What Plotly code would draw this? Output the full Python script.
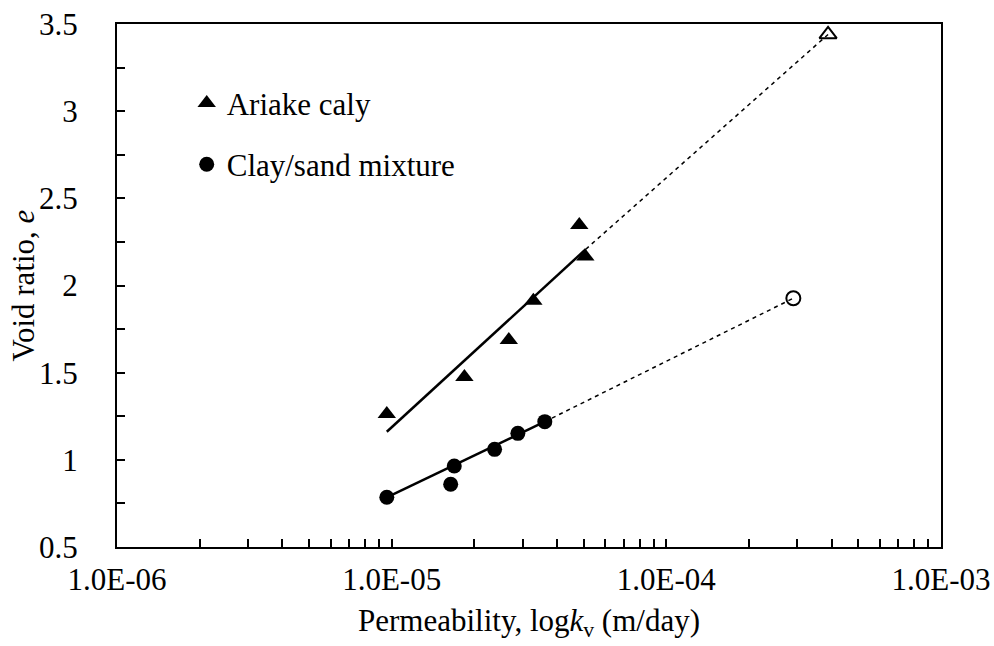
import plotly.graph_objects as go

# --- data ---
ariake_k = [9.6e-6, 1.84e-5, 2.67e-5, 3.28e-5, 4.82e-5, 5.07e-5]
ariake_e = [1.263, 1.475, 1.688, 1.913, 2.347, 2.166]
ariake_fit_k = [9.6e-6, 5.09e-5]
ariake_fit_e = [1.161, 2.208]
ariake_ext_k = [5.09e-5, 3.88e-4]
ariake_ext_e = [2.208, 3.44]

mix_k = [9.6e-6, 1.69e-5, 1.64e-5, 2.37e-5, 2.88e-5, 3.61e-5]
mix_e = [0.785, 0.965, 0.86, 1.06, 1.152, 1.219]
mix_fit_k = [9.6e-6, 3.61e-5]
mix_fit_e = [0.785, 1.219]
mix_ext_k = [3.61e-5, 2.9e-4]
mix_ext_e = [1.219, 1.927]

x_tickvals = [1e-6, 1e-5, 1e-4, 1e-3]
x_ticktext = ["1.0E-06", "1.0E-05", "1.0E-04", "1.0E-03"]

FONT = "Liberation Serif"
FS = 31

fig = go.Figure()

# dashed extrapolations
fig.add_trace(go.Scatter(x=ariake_ext_k, y=ariake_ext_e, mode="lines",
                         line=dict(color="black", width=1.5, dash="4px,4px"),
                         showlegend=False, hoverinfo="skip"))
fig.add_trace(go.Scatter(x=mix_ext_k, y=mix_ext_e, mode="lines",
                         line=dict(color="black", width=1.5, dash="4px,4px"),
                         showlegend=False, hoverinfo="skip"))
# solid fits
fig.add_trace(go.Scatter(x=ariake_fit_k, y=ariake_fit_e, mode="lines",
                         line=dict(color="black", width=2.5),
                         showlegend=False, hoverinfo="skip"))
fig.add_trace(go.Scatter(x=mix_fit_k, y=mix_fit_e, mode="lines",
                         line=dict(color="black", width=2.5),
                         showlegend=False, hoverinfo="skip"))
# open end markers
fig.add_trace(go.Scatter(x=ariake_ext_k[1:], y=ariake_ext_e[1:], mode="markers",
                         marker=dict(symbol="triangle-up-open", size=15, color="black",
                                     line=dict(width=2, color="black")),
                         showlegend=False))
fig.add_trace(go.Scatter(x=mix_ext_k[1:], y=mix_ext_e[1:], mode="markers",
                         marker=dict(symbol="circle-open", size=14, color="black",
                                     line=dict(width=2, color="black")),
                         showlegend=False))
# data
fig.add_trace(go.Scatter(x=ariake_k, y=ariake_e, mode="markers", name="Ariake caly",
                         legendgroup="a",
                         marker=dict(symbol="triangle-up", size=16, color="black")))
fig.add_trace(go.Scatter(x=mix_k, y=mix_e, mode="markers", name="Clay/sand mixture",
                         legendgroup="b",
                         marker=dict(symbol="circle", size=15, color="black")))

fig.update_layout(
    width=994, height=646,
    margin=dict(l=117, r=53, t=24, b=99, autoexpand=False),
    paper_bgcolor="white", plot_bgcolor="white",
    font=dict(family=FONT, size=FS, color="black"),
    showlegend=True,
    legend=dict(x=0.0846, y=0.9, xanchor="left", yanchor="top",
                bgcolor="rgba(0,0,0,0)", traceorder="grouped",
                tracegroupgap=18, itemwidth=30,
                font=dict(family=FONT, size=FS, color="black")),
    xaxis=dict(type="log", range=[-6, -3], automargin=False,
               tickvals=x_tickvals, ticktext=x_ticktext,
               ticks="inside", ticklen=8, tickwidth=1.5, tickcolor="black",
               minor=dict(ticks="inside", ticklen=8, tickwidth=1.5, tickcolor="black",
                          dtick="D1", showgrid=False),
               showline=True, linewidth=2, linecolor="black", mirror=True,
               showgrid=False, zeroline=False,
               ticklabelstandoff=4,
               tickfont=dict(family=FONT, size=FS),
               title=dict(text="Permeability, log<i>k</i><sub>v</sub> (m/day)",
                          font=dict(family=FONT, size=FS), standoff=13)),
    yaxis=dict(range=[0.5, 3.5], dtick=0.5, tick0=0.5, automargin=False,
               ticks="inside", ticklen=8, tickwidth=1.5, tickcolor="black",
               minor=dict(ticks="inside", ticklen=8, tickwidth=1.5, tickcolor="black",
                          dtick=0.25, showgrid=False),
               showline=True, linewidth=2, linecolor="black", mirror=True,
               showgrid=False, zeroline=False,
               ticklabelstandoff=31,
               tickfont=dict(family=FONT, size=FS)),
    annotations=[dict(text="Void ratio, <i>e</i>", textangle=-90,
                      xref="paper", yref="paper", x=-0.1129, y=0.5,
                      xanchor="center", yanchor="middle", showarrow=False,
                      font=dict(family=FONT, size=FS, color="black"))],
)

fig.write_html("out.html",
               config={"displayModeBar": False},
               post_script="document.body.style.margin='0px';document.body.style.overflow='hidden';")
